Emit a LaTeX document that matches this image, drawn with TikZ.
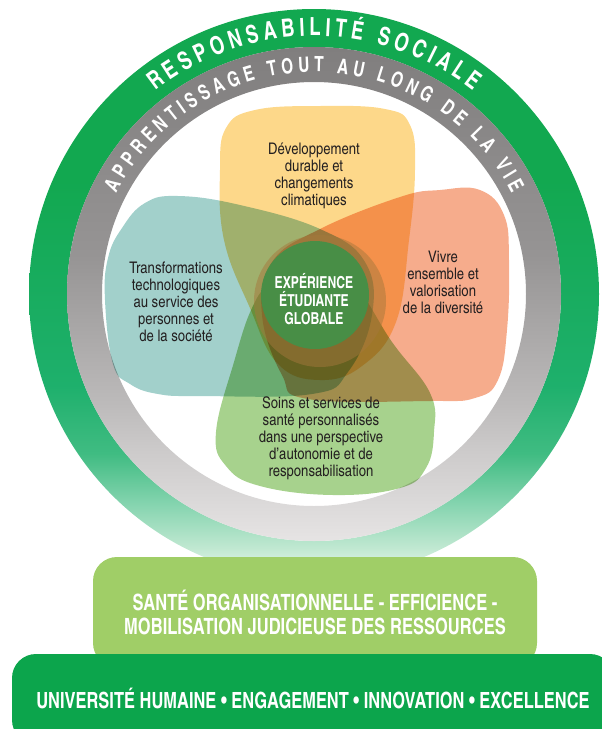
\documentclass[tikz,border=0pt]{standalone}
\usepackage{fontspec}
\setmainfont{texgyreheroscn}[Extension=.otf, UprightFont=*-regular, BoldFont=*-bold]
\newfontfamily\tallfont{texgyreheroscn}[Extension=.otf, UprightFont=*-regular, BoldFont=*-bold, FakeStretch=0.9]
\usepackage{tikz}
\usetikzlibrary{decorations.text,positioning}

\definecolor{ringgreen}{RGB}{18,168,80}
\definecolor{ringteal}{RGB}{30,176,108}
\definecolor{grayA}{RGB}{230,228,228}
\definecolor{grayB}{RGB}{205,203,203}
\definecolor{grayC}{RGB}{188,186,186}
\definecolor{grayD}{RGB}{150,148,148}
\definecolor{grayE}{RGB}{128,126,126}
\definecolor{petalyellow}{RGB}{253,216,138}
\definecolor{petalteal}{RGB}{162,208,203}
\definecolor{petalsalmon}{RGB}{246,172,140}
\definecolor{petalgreen}{RGB}{167,210,141}
\definecolor{coregreen}{RGB}{72,142,70}
\definecolor{corebrown}{RGB}{165,120,60}
\definecolor{boxlight}{RGB}{160,206,103}
\definecolor{boxdark}{RGB}{12,165,76}
\definecolor{inktext}{RGB}{35,31,32}

% ring fades (bbox maps to 25bp..75bp)
\pgfdeclareverticalshading{greenfade}{100bp}{color(0bp)=(ringgreen!5); color(25bp)=(ringgreen!5);
  color(27.5bp)=(ringgreen!25); color(31.7bp)=(ringteal!55); color(36bp)=(ringteal!85);
  color(42bp)=(ringteal); color(60bp)=(ringgreen); color(100bp)=(ringgreen)}
\pgfdeclareverticalshading{grayfade}{100bp}{color(0bp)=(grayA); color(25bp)=(grayA);
  color(34bp)=(grayB); color(39bp)=(grayC); color(54bp)=(grayD); color(75bp)=(grayE); color(100bp)=(grayE)}

\newcommand\ringfont{\tallfont\fontsize{25}{25}\selectfont\bfseries}
\newcommand\arcfont{\tallfont\fontsize{21}{21}\selectfont\bfseries}

\begin{document}
\begin{tikzpicture}[x=1pt, y=-1pt,
    petaltext/.style={text=inktext, align=center, font=\fontsize{16}{17}\selectfont},
    coretext/.style={text=white, align=center, font=\tallfont\fontsize{16.5}{18}\selectfont\bfseries},
    lightbox/.style={fill=boxlight, rounded corners=24pt, text=white, align=center,
      minimum width=444pt, minimum height=110pt, font=\tallfont\fontsize{22.4}{24}\selectfont\bfseries},
    darkbox/.style={fill=boxdark, rounded corners=24pt, text=white, align=center,
      minimum width=602pt, minimum height=90pt, font=\tallfont\fontsize{22.3}{24}\selectfont\bfseries}]
    \useasboundingbox (0,0) rectangle (602,729);
    \coordinate (c) at (314,294);

    % Rings
    \shade[shading=greenfade, even odd rule] (c) circle[radius=285] (c) circle[radius=247];
    \shade[shading=grayfade, even odd rule] (c) circle[radius=247] (c) circle[radius=212];

    % Ring texts
    \path[decorate, decoration={text along path, text align=fit to path, text color=white,
        text={|\ringfont|RESPONSABILITÉ SOCIALE}}]
        ([shift={(-128:258)}]c) arc[start angle=-128, end angle=-52, radius=258];
    \path[decorate, decoration={text along path, text align=fit to path, text color=white,
        text={|\arcfont|APPRENTISSAGE TOUT AU LONG DE LA VIE}}]
        ([shift={(-153:222)}]c) arc[start angle=-153, end angle=-27, radius=222];

    % Petals
    \begin{scope}[blend mode=multiply]
        \fill[petalyellow] plot[smooth cycle, tension=0.7] coordinates {(220,170) (226,128) (255,110)
            (320,106) (385,109) (410,125) (415,170) (409,240) (396,322) (362,366) (320,380) (278,364)
            (250,308) (224,240)};
        \fill[petalteal] plot[smooth cycle, tension=0.7] coordinates {(105,300) (108,258) (122,228)
            (145,203) (178,196) (240,205) (320,229) (365,262) (372,315) (348,372) (312,394) (200,396)
            (158,394) (130,384) (113,364)};
        \fill[petalsalmon] plot[smooth cycle, tension=0.7] coordinates {(509,260) (504,215) (480,190)
            (440,190) (400,197) (320,229) (272,262) (262,315) (282,375) (308,399) (430,401) (475,398)
            (498,380) (507,330)};
        \fill[petalgreen] plot[smooth cycle, tension=0.7] coordinates {(216,432) (226,466) (260,486)
            (333,495) (400,488) (426,468) (434,432) (430,393) (392,342) (352,282) (310,262) (272,282)
            (252,308) (234,362)};
    \end{scope}

    % Core
    \fill[corebrown, opacity=0.5] (320,301) circle[radius=66];
    \fill[coregreen] (315,295) circle[radius=54];
    \node[coretext] (core) at (314,299) {EXPÉRIENCE\\ÉTUDIANTE\\GLOBALE};

    % Petal labels
    \node[petaltext] (climate) at (314,176) {Développement\\durable et\\changements\\climatiques};
    \node[petaltext] (techno) at (176,302) {Transformations\\technologiques\\au service des\\personnes et\\de la société};
    \node[petaltext] (diversity) at (443,282) {Vivre\\ensemble et\\valorisation\\de la diversité};
    \node[petaltext] (health) at (321,438) {Soins et services de\\santé personnalisés\\dans une perspective\\d’autonomie et de\\responsabilisation};

    % Bottom boxes
    \node[lightbox] (orgbox) at (315,612) {SANTÉ ORGANISATIONNELLE - EFFICIENCE -\\MOBILISATION JUDICIEUSE DES RESSOURCES};
    \node[darkbox] (valuesbox) at (313,699) {UNIVERSITÉ HUMAINE \textbullet{} ENGAGEMENT \textbullet{} INNOVATION \textbullet{} EXCELLENCE};
\end{tikzpicture}
\end{document}
